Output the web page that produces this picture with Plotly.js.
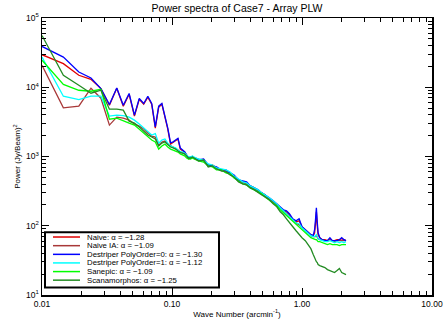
<!DOCTYPE html>
<html><head><meta charset="utf-8">
<script src="https://cdn.plot.ly/plotly-3.0.1.min.js"></script>
<style>html,body{margin:0;padding:0;background:#fff}#chart{width:443px;height:325px}</style>
</head><body><div id="chart"></div>
<script>
// Wave number (arcmin^-1)
const wavenumber = [0.0100,0.0146,0.0192,0.0238,0.0284,0.0330,0.0376,0.0422,0.0468,0.0514,0.0560,0.0606,0.0652,0.0698,0.0744,0.0790,0.0836,0.0882,0.0928,0.0974,0.1020,0.1066,0.1112,0.1158,0.1204,0.1250,0.1296,0.1342,0.1388,0.1434,0.1480,
  0.16,0.175,0.19,0.205,0.22,0.24,0.26,0.28,0.30,0.325,0.35,0.375,0.40,0.43,0.46,0.49,0.52,0.56,0.60,0.64,0.68,0.72,0.76,0.80,0.85,0.90,0.95,1.00,1.06,1.12,1.17,1.22,1.25,1.27,1.29,1.31,1.33,1.37,1.43,1.50,1.57,1.64,1.71,1.78,1.86,1.94,2.02,2.10,2.18];

const naive = [29500,21900,14900,13000,9580,5510,9670,5330,7930,3830,6720,5690,7180,5690,2570,5160,5690,3830,2490,1510,1590,1670,1790,1280,1200,1160,1050,935,967,967,935,
  890,890,754,730,683,639,618,579,524,459,430,416,376,352,319,298,279,245,221,207,182,164,159,144,122,114,118,96.7,87.6,79.3,74.2,71.8,79.3,107,159,100,74.2,67.2,62.9,62.9,60.8,65.0,60.8,60.8,62.9,62.9,65.0,62.9,60.8];

const naiveIA = [20700,5040,5330,9670,6950,2840,3700,3580,3350,2940,2750,2490,2180,1970,1910,1460,1620,1670,1510,1420,1370,1300,1240,1160,1140,1100,1030,967,967,1000,967,
  920,861,730,754,683,618,618,560,507,444,416,402,364,341,319,289,270,245,221,201,182,164,149,135,122,110,103,93.6,84.7,76.7,71.8,69.5,69.5,69.5,71.8,67.2,65.0,62.9,62.9,60.8,60.8,62.9,60.8,58.9,60.8,60.8,60.8,60.8,60.8];

const destriper0 = [38900,27300,16600,13600,9580,5640,9770,5510,8120,3950,6880,5830,7420,5830,2680,5330,5830,3950,2570,1580,1630,1730,1830,1330,1240,1170,1050,942,983,1000,951,
  890,920,754,730,706,639,639,579,542,459,444,430,376,352,330,298,279,253,229,207,188,170,164,149,126,118,126,96.7,87.6,79.3,74.2,71.8,87.6,122,182,114,79.3,67.2,62.9,60.8,60.8,67.2,60.8,60.8,60.8,62.9,67.2,62.9,60.8];

const destriper1 = [27300,7420,6650,7420,7420,3830,3950,3890,3700,3350,2940,2570,2250,2040,2140,1560,1730,1790,1560,1420,1370,1330,1240,1180,1160,1120,1050,983,983,1017,983,
  920,890,780,754,683,661,639,598,524,474,430,416,376,352,330,298,279,253,229,207,182,164,149,135,122,110,107,93.6,84.7,76.7,71.8,69.5,69.5,71.8,74.2,69.5,65.0,62.9,60.8,58.9,58.9,60.8,58.9,56.9,58.9,56.9,58.9,56.9,58.9];

const sanepic = [24500,11000,9050,8760,9360,3460,3580,3240,3030,2840,2490,2180,1910,1730,1620,1280,1420,1510,1370,1280,1240,1200,1160,1090,1050,1020,951,920,920,951,920,
  861,833,730,706,639,639,579,560,490,444,402,389,352,330,308,289,261,237,214,194,170,154,139,126,114,103,96.7,87.6,79.3,71.8,67.2,65.0,62.9,62.9,62.9,60.8,58.9,58.9,56.9,55.1,53.3,55.1,53.3,53.3,53.3,51.6,53.3,53.3,53.3];

const scanamorphos = [56000,14900,10700,8200,9050,4820,4820,4670,3240,3030,2660,2330,2040,1910,1790,1420,1560,1620,1460,1370,1330,1280,1200,1140,1120,1090,1020,951,951,983,951,
  861,890,706,730,661,618,598,542,507,430,402,389,352,330,298,279,261,237,207,188,159,144,126,110,96.7,84.7,74.2,67.2,60.8,53.3,46.7,38.3,33.5,31.4,30.3,29.4,27.5,26.6,25.7,24.9,23.3,22.5,21.8,21.1,22.5,24.1,21.1,20.4,19.7];

const seriesLabels = ['Naive: \u03b1 = \u22121.28','Naive IA: \u03b1 = \u22121.09','Destriper PolyOrder=0: \u03b1 = \u22121.30','Destriper PolyOrder=1: \u03b1 = \u22121.12','Sanepic: \u03b1 = \u22121.09','Scanamorphos: \u03b1 = \u22121.25'];
const seriesColors = ['#e00000','#a83838','#0000ff','#00ffff','#00ff00','#228b22'];
const seriesData = [naive, naiveIA, destriper0, destriper1, sanepic, scanamorphos];

const xTickVals = [0.01,0.1,1,10];
const xTickText = ['0.01','0.10','1.00','10.00'];
const yTickVals = [10,100,1000,10000,100000];
const yTickText = ['10<sup>1</sup>','10<sup>2</sup>','10<sup>3</sup>','10<sup>4</sup>','10<sup>5</sup>'];

function minorVals(d0, d1){ const v=[]; for(let d=d0; d<d1; d++){ for(let m=2;m<=9;m++) v.push(m*Math.pow(10,d)); } return v; }

const font = 'Liberation Sans, Arial, sans-serif';
const traces = seriesData.map((y,i)=>({
  x: wavenumber, y: y, type:'scatter', mode:'lines', name: seriesLabels[i],
  line:{color: seriesColors[i], width:1.3}, showlegend:false, hoverinfo:'skip'
}));

// manual legend (IDL style)
const pl=42, pr=432, pt=17.5, pb=295.5;
const px = v => (v-pl)/(pr-pl);
const py = v => (pb-v)/(pb-pt);
const shapes = [{type:'rect', xref:'paper', yref:'paper', x0:px(45), x1:px(219), y0:py(288), y1:py(232.5), line:{color:'black', width:2}, fillcolor:'white', layer:'above'}];
const annotations = [];
const rowY = [237.3,246,254.7,263.3,272,280.6];
seriesLabels.forEach((lab,i)=>{
  shapes.push({type:'line', xref:'paper', yref:'paper', x0:px(53), x1:px(80), y0:py(rowY[i]), y1:py(rowY[i]), line:{color:seriesColors[i], width:1.5}, layer:'above'});
  annotations.push({xref:'paper', yref:'paper', x:px(85), y:py(rowY[i]), xanchor:'left', yanchor:'middle', text:lab, showarrow:false, font:{family:font, size:7.8, color:'black'}});
});

const axBase = {type:'log', showline:true, linecolor:'black', linewidth:1.5, mirror:'allticks', ticks:'inside', tickcolor:'black', showgrid:false, zeroline:false, tickfont:{family:font, size:8.5, color:'black'}, tickmode:'array'};

const layout = {
  width:443, height:325, paper_bgcolor:'white', plot_bgcolor:'white',
  margin:{l:42, r:11, t:17.5, b:29.5},
  title:{text:'Power spectra of Case7 - Array PLW', font:{family:font, size:10.5, color:'black'}, x:0.535, xanchor:'center', y:0.974, yanchor:'middle'},
  xaxis: Object.assign({}, axBase, {range:[-2,1], tickvals:xTickVals, ticktext:xTickText, ticklen:7,
    minor:{tickmode:'array', tickvals:minorVals(-2,1), ticks:'inside', ticklen:4, tickcolor:'black', showgrid:false},
    title:{text:'Wave Number (arcmin<sup>-1</sup>)', font:{family:font, size:8, color:'black'}, standoff:3}}),
  yaxis: Object.assign({}, axBase, {range:[1,5], tickvals:yTickVals, ticktext:yTickText, ticklen:7,
    minor:{tickmode:'array', tickvals:minorVals(1,5), ticks:'inside', ticklen:4, tickcolor:'black', showgrid:false},
    title:{text:'Power (Jy/Beam)<sup>2</sup>', font:{family:font, size:8, color:'black'}, standoff:4}}),
  shapes: shapes, annotations: annotations, showlegend:false
};
Plotly.newPlot('chart', traces, layout, {displayModeBar:false, staticPlot:true});
</script></body></html>
